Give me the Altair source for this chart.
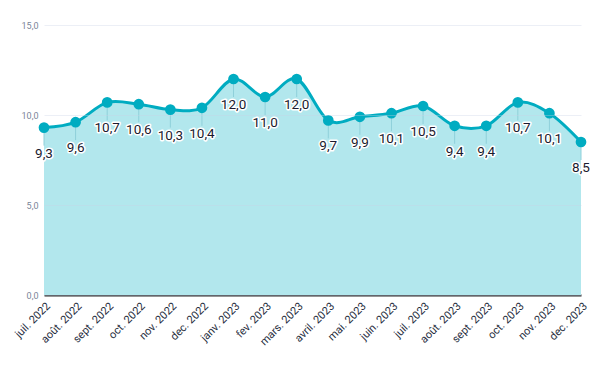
import altair as alt
import pandas as pd

months = ["juil. 2022", "août. 2022", "sept. 2022", "oct. 2022", "nov. 2022", "dec. 2022",
          "janv. 2023", "fev. 2023", "mars. 2023", "avril. 2023", "mai. 2023", "juin. 2023",
          "juil. 2023", "août. 2023", "sept. 2023", "oct. 2023", "nov. 2023", "dec. 2023"]
values = [9.3, 9.6, 10.7, 10.6, 10.3, 10.4, 12.0, 11.0, 12.0, 9.7, 9.9, 10.1,
          10.5, 9.4, 9.4, 10.7, 10.1, 8.5]

df = pd.DataFrame({"mois": months, "valeur": values})
df["label"] = [f"{v:.1f}".replace(".", ",") for v in values]

x = alt.X("mois:N", sort=months, title=None,
          scale=alt.Scale(type="point", padding=0),
          axis=alt.Axis(labelAngle=-45, labelAlign="right", labelBaseline="top",
                        labelColor="#1f2d3d", labelFontSize=11, labelFont="Roboto",
                        domainColor="#2b2b2b", domainWidth=2, ticks=False,
                        grid=False, labelPadding=5))
y = alt.Y("valeur:Q", title=None,
          scale=alt.Scale(domain=[0, 15], nice=False),
          axis=alt.Axis(values=[0, 5, 10, 15], domain=False, ticks=False,
                        labelExpr="replace(format(datum.value, '.1f'), '.', ',')",
                        labelColor="#7a8599", labelFontSize=9, labelFont="Roboto",
                        gridColor="#c9d2e6", gridOpacity=0.35, labelPadding=6,
                        zindex=1))

base = alt.Chart(df).encode(x=x, y=y)

area = base.mark_area(interpolate="cardinal", color="#b2e7ed", opacity=1)
drops = base.mark_rule(color="#8fd0da", strokeWidth=1, y2Offset=18).encode(y2="valeur:Q")
line = base.mark_line(interpolate="cardinal", color="#00acc1", strokeWidth=3)
points = base.mark_circle(size=115, color="#00acc1", opacity=1)
halo = base.mark_text(dy=26, fontSize=13.5, font="Roboto", stroke="white",
                      strokeWidth=3, strokeJoin="round", color="white").encode(text="label:N")
labels = base.mark_text(dy=26, fontSize=13.5, font="Roboto", color="#1a1a2e").encode(text="label:N")

chart = alt.layer(area, drops, line, points, halo, labels).properties(
    width=537, height=270,
    autosize=alt.AutoSizeParams(type="none"),
    padding={"left": 36, "top": 17, "right": 11, "bottom": 70},
).configure_view(stroke=None)

chart.save("out.html", embed_options={"renderer": "svg", "actions": False})
